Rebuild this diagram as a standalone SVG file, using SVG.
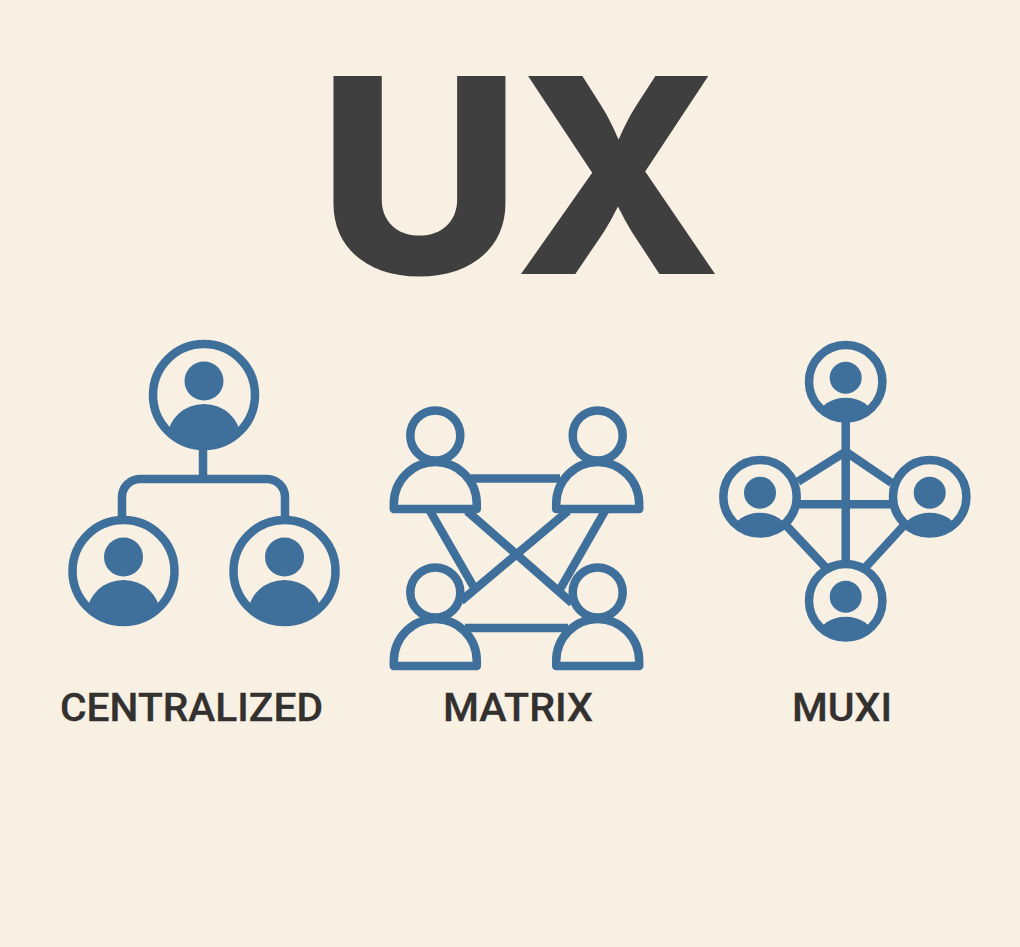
<svg xmlns="http://www.w3.org/2000/svg" xmlns:xlink="http://www.w3.org/1999/xlink" width="1020" height="947" viewBox="0 0 1020 947">
<style>
.ring{fill:none;stroke:#3f6f9b;stroke-width:8.500}
.fill{fill:#3f6f9b}
.line{fill:none;stroke:#3f6f9b;stroke-width:8.500;stroke-linejoin:round;stroke-linecap:round}
.wire{fill:none;stroke:#3f6f9b;stroke-width:8.500;stroke-linecap:butt}
.title{font-family:Inter,"Liberation Sans",sans-serif;font-weight:800;font-size:272px;fill:#3f3f3f}
.label{font-family:Roboto,"Liberation Sans",sans-serif;font-weight:500;font-size:38px;fill:#333130;stroke:#333130;stroke-width:.3}
</style>
<defs>
<clipPath id="big"><circle cx="0" cy="0" r="51"/></clipPath>
<clipPath id="small"><circle cx="0" cy="0" r="37"/></clipPath>
<g id="bigUser">
<circle class="ring" r="51"/>
<circle class="fill" cx="0" cy="-14" r="19.500"/>
<ellipse class="fill" cx="0" cy="42" rx="36" ry="33" clip-path="url(#big)"/>
</g>
<g id="smallUser">
<circle class="ring" r="36.700"/>
<circle class="fill" cx="0" cy="-4" r="16"/>
<ellipse class="fill" cx="0" cy="35" rx="27" ry="19" clip-path="url(#small)"/>
</g>
<g id="outlineUser">
<circle class="ring" cx="0" cy="-26.500" r="25"/>
<path class="line" d="M-41.500 47 V42 A41.500 42 0 0 1 41.500 42 V47 Z"/>
</g>
</defs>
<rect width="1020" height="947" fill="#f8f0e3"/>
<text class="title" transform="translate(317.600 274) scale(1.030 1)">U</text>
<text class="title" x="514.500" y="274">X</text>
<g id="connectors">
<path class="wire" d="M203 448V479M122 518V497A18 18 0 0 1 140 479H267A18 18 0 0 1 285 497V518"/>
<path class="wire" d="M471 478.500H560M465 628H568M430 511L476 591M467 511L572 603M568 511L461 601M605 511L559 591"/>
<path class="wire" d="M845.700 416V566M798 504.300H893M798 481.700L845.700 451.700L891.700 483M782 521L828 570M908 521L863 570"/>
</g>
<g id="centralized-top"><use href="#bigUser" x="204" y="395"/></g>
<g id="centralized-left"><use href="#bigUser" x="123.500" y="571"/></g>
<g id="centralized-right"><use href="#bigUser" x="284.500" y="571"/></g>
<g id="matrix-top-left"><use href="#outlineUser" x="435.300" y="462"/></g>
<g id="matrix-top-right"><use href="#outlineUser" x="597.700" y="462"/></g>
<g id="matrix-bottom-left"><use href="#outlineUser" x="435.300" y="619"/></g>
<g id="matrix-bottom-right"><use href="#outlineUser" x="597.700" y="619"/></g>
<g id="muxi-top"><use href="#smallUser" x="845.700" y="381.700"/></g>
<g id="muxi-left"><use href="#smallUser" x="760" y="496.700"/></g>
<g id="muxi-right"><use href="#smallUser" x="929.700" y="496.700"/></g>
<g id="muxi-bottom"><use href="#smallUser" x="845.700" y="600.700"/></g>
<text class="label" x="60" y="721" textLength="263" lengthAdjust="spacingAndGlyphs">CENTRALIZED</text>
<text class="label" x="443" y="721" textLength="150" lengthAdjust="spacingAndGlyphs">MATRIX</text>
<text class="label" x="792" y="721" textLength="100" lengthAdjust="spacingAndGlyphs">MUXI</text>
</svg>
